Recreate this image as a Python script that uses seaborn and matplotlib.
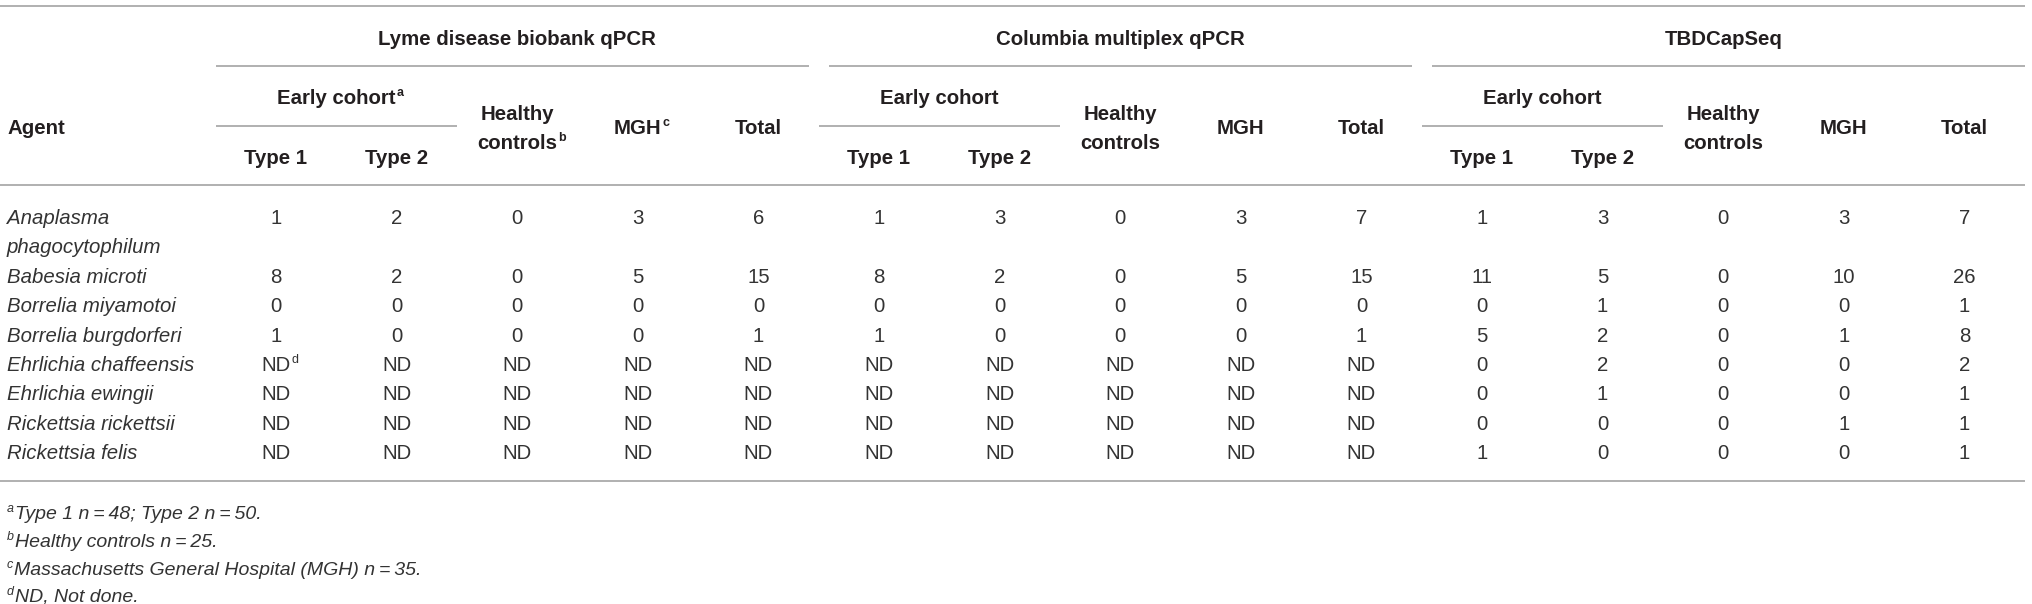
import matplotlib
matplotlib.use("Agg")
import matplotlib.pyplot as plt
import seaborn as sns

# ---- table content ----
methods = ["Lyme disease biobank qPCR", "Columbia multiplex qPCR", "TBDCapSeq"]
cohort_sup = ["a", "", ""]
healthy_sup = ["b", "", ""]
mgh_sup = ["c", "", ""]
type_labels = ["Type 1", "Type 2"]

agents = [
    "Anaplasma\nphagocytophilum",
    "Babesia microti",
    "Borrelia miyamotoi",
    "Borrelia burgdorferi",
    "Ehrlichia chaffeensis",
    "Ehrlichia ewingii",
    "Rickettsia rickettsii",
    "Rickettsia felis",
]

ND = None
# columns: Type 1, Type 2, Healthy controls, MGH, Total
lyme_counts = [
    [1, 2, 0, 3, 6],
    [8, 2, 0, 5, 15],
    [0, 0, 0, 0, 0],
    [1, 0, 0, 0, 1],
    [ND, ND, ND, ND, ND],
    [ND, ND, ND, ND, ND],
    [ND, ND, ND, ND, ND],
    [ND, ND, ND, ND, ND],
]
columbia_counts = [
    [1, 3, 0, 3, 7],
    [8, 2, 0, 5, 15],
    [0, 0, 0, 0, 0],
    [1, 0, 0, 0, 1],
    [ND, ND, ND, ND, ND],
    [ND, ND, ND, ND, ND],
    [ND, ND, ND, ND, ND],
    [ND, ND, ND, ND, ND],
]
tbd_counts = [
    [1, 3, 0, 3, 7],
    [11, 5, 0, 10, 26],
    [0, 1, 0, 0, 1],
    [5, 2, 0, 1, 8],
    [0, 2, 0, 0, 2],
    [0, 1, 0, 0, 1],
    [0, 0, 0, 1, 1],
    [1, 0, 0, 0, 1],
]
all_counts = [lyme_counts, columbia_counts, tbd_counts]
# (method, agent row, column) -> footnote mark
cell_marks = {(0, 4, 0): "d"}

footnotes = [
    ("a", "Type 1 n\u2009=\u200948; Type 2 n\u2009=\u200950."),
    ("b", "Healthy controls n\u2009=\u200925."),
    ("c", "Massachusetts General Hospital (MGH) n\u2009=\u200935."),
    ("d", "ND, Not done."),
]

# ---- style ----
sns.set_theme(style="white")
plt.rcParams["font.family"] = ["Liberation Sans", "DejaVu Sans"]

TXT = "#231f20"     # bold header text
BODY = "#333333"    # light body text
RULE = "#a3a3a3"
FS = 14.7
FS_NOTE = 14.0
FS_SUP = 9.0

W, H = 2032, 604
fig = plt.figure(figsize=(W / 100, H / 100), dpi=100)
ax = fig.add_axes([0, 0, 1, 1])
ax.set_xlim(0, W)
ax.set_ylim(H, 0)
ax.axis("off")
fig.canvas.draw()
renderer = fig.canvas.get_renderer()

first_col = 276
col_step = 120.6
col_x = [first_col + col_step * i for i in range(15)]
half = col_step / 2
BASE = 7  # baseline offset from visual center


def put(x, y, s, sup="", size=FS, weight="normal", style="normal", ha="center"):
    color = TXT if weight == "bold" else BODY
    t = ax.text(x, y + BASE, s, ha=ha, va="baseline", fontsize=size,
                fontweight=weight, fontstyle=style, color=color)
    if sup:
        bb = t.get_window_extent(renderer)
        ax.text(bb.x1 + 1, y + BASE - 8, sup, ha="left", va="baseline",
                fontsize=FS_SUP, fontweight=weight, fontstyle=style, color=color)
    return t


# rules
ax.hlines([6, 185, 481], 0, 2025, color=RULE, lw=1.2)
for g, name in enumerate(methods):
    c0 = g * 5
    left = col_x[c0] - half + (10 if g > 0 else 0)
    right = col_x[c0 + 4] + half - (10 if g < 2 else 0)
    ax.hlines(66, left, right, color=RULE, lw=1.2)
    ax.hlines(126, col_x[c0] - half, col_x[c0 + 1] + half, color=RULE, lw=1.2)

    # header text
    put((col_x[c0] + col_x[c0 + 4]) / 2, 38, name, weight="bold")
    put((col_x[c0] + col_x[c0 + 1]) / 2, 97, "Early cohort", cohort_sup[g], weight="bold")
    for k, lab in enumerate(type_labels):
        put(col_x[c0 + k], 157, lab, weight="bold")
    put(col_x[c0 + 2], 113, "Healthy", weight="bold")
    put(col_x[c0 + 2], 142, "controls", healthy_sup[g], weight="bold")
    put(col_x[c0 + 3], 127, "MGH", mgh_sup[g], weight="bold")
    put(col_x[c0 + 4], 127, "Total", weight="bold")

put(7, 127, "Agent", weight="bold", ha="left")

# body
row_y0 = 217
line_step = 29.4
line = 0
for r, agent in enumerate(agents):
    y = row_y0 + line_step * line
    parts = agent.split("\n")
    for j, p in enumerate(parts):
        put(7, y + line_step * j, p, style="italic", ha="left")
    for g, counts in enumerate(all_counts):
        for c, v in enumerate(counts[r]):
            s = "ND" if v is None else str(v)
            put(col_x[g * 5 + c], y, s, cell_marks.get((g, r, c), ""))
    line += len(parts)

# footnotes
note_y = [512, 540, 568, 595]
for (mark, txt), y in zip(footnotes, note_y):
    m = ax.text(7, y + BASE - 7, mark, ha="left", va="baseline", fontsize=FS_SUP,
                fontstyle="italic", color=BODY)
    bb = m.get_window_extent(renderer)
    ax.text(bb.x1 + 1, y + BASE, txt, ha="left", va="baseline", fontsize=FS_NOTE,
            fontstyle="italic", color=BODY)

fig.savefig("out.png", dpi=100)
